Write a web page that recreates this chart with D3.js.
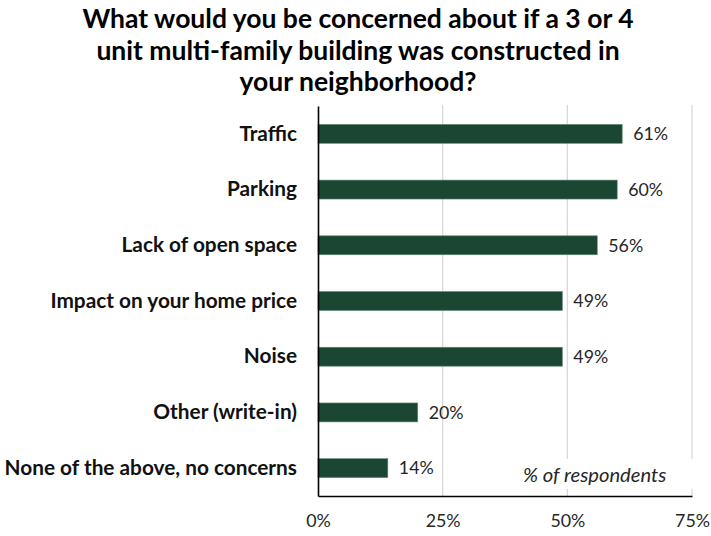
<!DOCTYPE html>
<html>
<head>
<meta charset="utf-8">
<script src="https://cdn.jsdelivr.net/npm/d3@7"></script>
<style>
  html, body { margin: 0; padding: 0; background: #fff; }
  svg { display: block; font-family: Lato, "Open Sans", sans-serif; }
</style>
</head>
<body>
<svg id="chart" width="711" height="536"></svg>
<script>
// Survey responses: concerns about a 3 or 4 unit multi-family building
const titleLines = [
  "What would you be concerned about if a 3 or 4",
  "unit multi-family building was constructed in",
  "your neighborhood?"
];
const categories = [
  "Traffic",
  "Parking",
  "Lack of open space",
  "Impact on your home price",
  "Noise",
  "Other (write-in)",
  "None of the above, no concerns"
];
const values = [61, 60, 56, 49, 49, 20, 14];
const tickValues = [0, 25, 50, 75];
const noteText = "% of  respondents";

const svg = d3.select("#chart");
const margin = { top: 106, right: 19, bottom: 40, left: 318 };
const W = 711, H = 536;
const innerW = W - margin.left - margin.right;
const innerH = H - margin.top - margin.bottom;

const x = d3.scaleLinear().domain([0, 75]).range([0, innerW]);
const y = d3.scaleBand().domain(categories).range([0, innerH]).paddingInner(0.66).paddingOuter(0.33);

// Title
svg.append("g")
  .selectAll("text")
  .data(titleLines)
  .join("text")
  .attr("x", 358)
  .attr("y", (d, i) => 28 + i * 31.7)
  .attr("text-anchor", "middle")
  .attr("font-weight", 700)
  .attr("font-size", 26.5)
  .attr("fill", "#000")
  .text(d => d);

const g = svg.append("g").attr("transform", `translate(${margin.left},${margin.top})`);

// Vertical gridlines
g.append("g")
  .selectAll("line")
  .data(tickValues.filter(v => v > 0))
  .join("line")
  .attr("x1", d => x(d)).attr("x2", d => x(d))
  .attr("y1", -1).attr("y2", innerH)
  .attr("stroke", "#d9d9d9")
  .attr("stroke-width", 1.3);

// Bars
g.append("g")
  .selectAll("rect")
  .data(categories)
  .join("rect")
  .attr("x", 0)
  .attr("y", d => y(d))
  .attr("width", (d, i) => x(values[i]))
  .attr("height", y.bandwidth())
  .attr("fill", "#1b4634")
  .attr("stroke", "#5e8a78")
  .attr("stroke-width", 0.6);

// Value labels
g.append("g")
  .selectAll("text")
  .data(categories)
  .join("text")
  .attr("x", (d, i) => x(values[i]) + 11)
  .attr("y", d => y(d) + y.bandwidth() / 2)
  .attr("dy", "0.35em")
  .attr("font-size", 17.8)
  .attr("fill", "#262626")
  .text((d, i) => values[i] + "%");

// Note box covering gridlines
g.append("rect")
  .attr("x", 197).attr("y", innerH - 37)
  .attr("width", 178).attr("height", 30)
  .attr("fill", "#fff");
g.append("text")
  .attr("x", 205)
  .attr("y", innerH - 14)
  .attr("font-size", 20.2)
  .attr("font-style", "italic")
  .attr("fill", "#262626")
  .text(noteText);

// Category labels (left axis)
const yAxis = g.append("g")
  .call(d3.axisLeft(y).tickSize(0).tickPadding(21));
yAxis.select(".domain").attr("stroke", "#000").attr("stroke-width", 1.6);
yAxis.selectAll("text")
  .attr("font-family", "Lato, 'Open Sans', sans-serif")
  .attr("font-size", 20.8)
  .attr("font-weight", 700)
  .attr("fill", "#111");

// Bottom axis
const xAxis = g.append("g")
  .attr("transform", `translate(0,${innerH})`)
  .call(d3.axisBottom(x).tickValues(tickValues).tickSize(0).tickPadding(18).tickFormat(d => d + "%"));
xAxis.select(".domain").attr("stroke", "#000").attr("stroke-width", 1.6);
xAxis.selectAll("text")
  .attr("font-family", "Lato, 'Open Sans', sans-serif")
  .attr("font-size", 17.8)
  .attr("fill", "#262626");
</script>
</body>
</html>
